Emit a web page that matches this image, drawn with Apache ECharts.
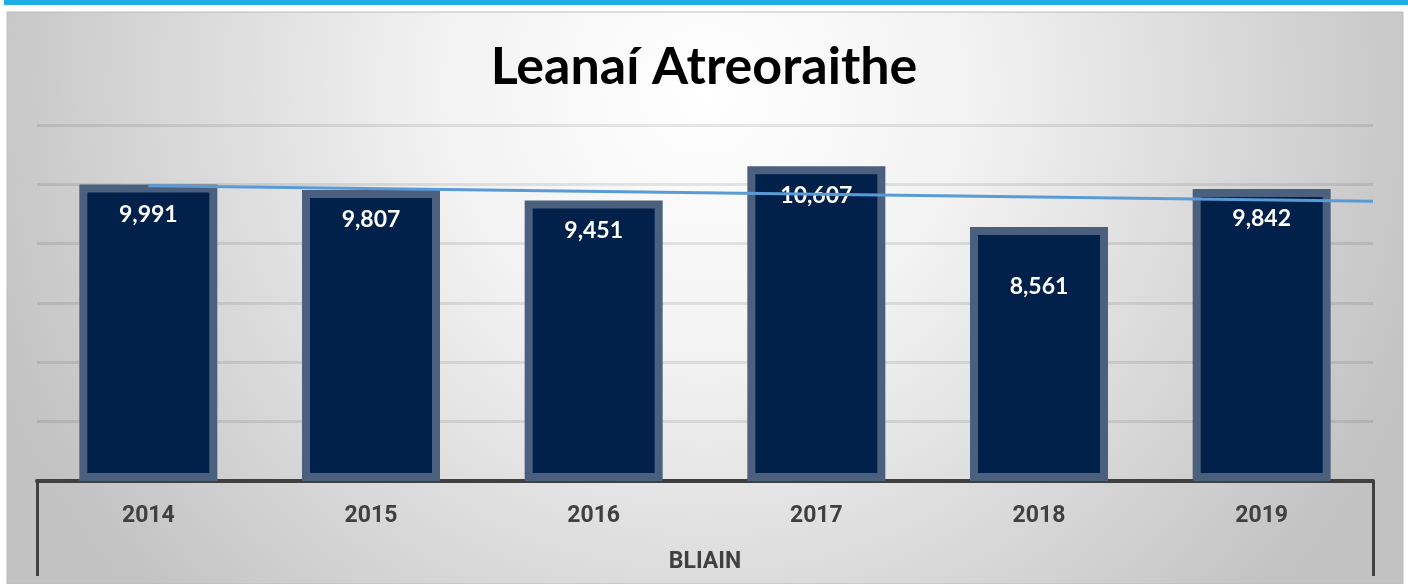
<!DOCTYPE html>
<html>
<head>
<meta charset="utf-8">
<title>Leanaí Atreoraithe</title>
<script src="https://cdn.jsdelivr.net/npm/echarts@6/dist/echarts.min.js"></script>
<style>
	html, body { margin: 0; padding: 0; background: #fff; }
	#main { width: 1408px; height: 584px; }
</style>
</head>
<body>
<div id="main"></div>
<script>
var years = ['2014', '2015', '2016', '2017', '2018', '2019'];
var referrals = [9991, 9807, 9451, 10607, 8561, 9842];
// trend line: from the 2014 centre to the right edge of the plot
var trendX = [0.5, 6];
var trendY = [9950, 9430];

(function(doc) {
	var chart = echarts.init(doc.getElementById('main'));

	var trendData = [];
	for(var i = 0; i < trendX.length; i++) {
		trendData.push([trendX[i], trendY[i]]);
	}

	// the 2018 label sits lower in its bar than the others
	var barData = [];
	for(var j = 0; j < referrals.length; j++) {
		var item = { value: referrals[j] };
		if(years[j] === '2018') {
			item.label = { distance: 48 };
		}
		barData.push(item);
	}

	var axisFont = {
		fontFamily: 'Roboto',
		fontWeight: 'bold',
		fontSize: 23,
		color: '#404040'
	};

	var option = {
		backgroundColor: '#fff',
		animation: false,
		graphic: [{
				type: 'rect',
				z: -10,
				shape: { x: 4, y: 0, width: 1404, height: 5 },
				style: { fill: '#1eade4' }
			},
			{
				type: 'rect',
				z: -10,
				shape: { x: 7, y: 12, width: 1396, height: 572 },
				style: {
					fill: new echarts.graphic.RadialGradient(705, 90, 760, [
						{ offset: 0, color: '#ffffff' },
						{ offset: 0.35, color: '#f2f2f2' },
						{ offset: 1, color: '#c2c2c2' }
					], true),
					stroke: '#bcbcbc',
					lineWidth: 1
				}
			}
		],
		title: {
			text: 'Leanaí Atreoraithe',
			left: 'center',
			top: 36,
			textStyle: {
				fontFamily: 'Lato',
				fontWeight: 'bold',
				fontSize: 52,
				color: '#000'
			}
		},
		grid: {
			left: 37,
			right: 35,
			top: 125,
			bottom: 103
		},
		xAxis: [{
				type: 'category',
				data: years,
				axisLine: { lineStyle: { color: '#404040', width: 4 } },
				axisTick: {
					show: true,
					length: 95,
					interval: function(index) {
						return index === 0;
					},
					lineStyle: { color: '#404040', width: 3 }
				},
				axisLabel: Object.assign({ margin: 24 }, axisFont),
				name: 'BLIAIN',
				nameLocation: 'middle',
				nameGap: 70,
				nameTextStyle: axisFont,
				splitLine: { show: false }
			},
			{
				type: 'value',
				min: 0,
				max: 6,
				show: false
			}
		],
		yAxis: {
			type: 'value',
			min: 0,
			max: 12000,
			interval: 2000,
			axisLabel: { show: false },
			axisLine: { show: false },
			axisTick: { show: false },
			splitLine: {
				lineStyle: { color: 'rgba(0,0,0,0.09)', width: 3 }
			}
		},
		series: [{
				name: 'Leanaí Atreoraithe',
				type: 'bar',
				barWidth: 138,
				data: barData,
				itemStyle: {
					color: '#02214a',
					borderColor: '#4b607e',
					borderWidth: 8
				},
				label: {
					show: true,
					position: 'insideTop',
					distance: 18,
					color: '#fff',
					fontFamily: 'Lato',
					fontWeight: 'bold',
					fontSize: 23,
					formatter: function(p) {
						return p.value.toLocaleString('en-US');
					}
				}
			},
			{
				name: 'Treocht',
				type: 'line',
				xAxisIndex: 1,
				z: 5,
				symbol: 'none',
				data: trendData,
				lineStyle: { color: '#5b9bd5', width: 3 }
			}
		]
	};

	chart.setOption(option);
})(document);
</script>
</body>
</html>
